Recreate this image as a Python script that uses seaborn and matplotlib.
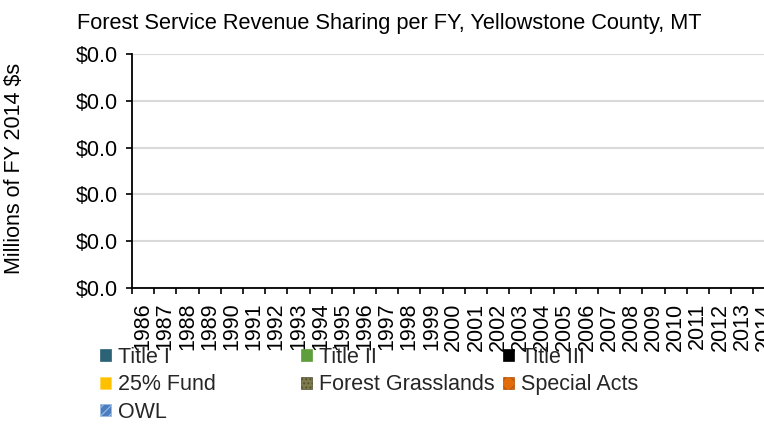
import numpy as np
import pandas as pd
import matplotlib
matplotlib.use("Agg")
import matplotlib.pyplot as plt
import seaborn as sns
from matplotlib.patches import Patch
from matplotlib.ticker import FuncFormatter, MultipleLocator, FixedLocator

# ---- data (millions of FY 2014 dollars) ----
years = [1986, 1987, 1988, 1989, 1990, 1991, 1992, 1993, 1994, 1995,
         1996, 1997, 1998, 1999, 2000, 2001, 2002, 2003, 2004, 2005,
         2006, 2007, 2008, 2009, 2010, 2011, 2012, 2013, 2014]
title_i = [0, 0, 0, 0, 0, 0, 0, 0, 0, 0, 0, 0, 0, 0, 0, 0, 0, 0, 0, 0, 0, 0, 0, 0, 0, 0, 0, 0, 0]
title_ii = [0, 0, 0, 0, 0, 0, 0, 0, 0, 0, 0, 0, 0, 0, 0, 0, 0, 0, 0, 0, 0, 0, 0, 0, 0, 0, 0, 0, 0]
title_iii = [0, 0, 0, 0, 0, 0, 0, 0, 0, 0, 0, 0, 0, 0, 0, 0, 0, 0, 0, 0, 0, 0, 0, 0, 0, 0, 0, 0, 0]
fund_25 = [0, 0, 0, 0, 0, 0, 0, 0, 0, 0, 0, 0, 0, 0, 0, 0, 0, 0, 0, 0, 0, 0, 0, 0, 0, 0, 0, 0, 0]
forest_grasslands = [0, 0, 0, 0, 0, 0, 0, 0, 0, 0, 0, 0, 0, 0, 0, 0, 0, 0, 0, 0, 0, 0, 0, 0, 0, 0, 0, 0, 0]
special_acts = [0, 0, 0, 0, 0, 0, 0, 0, 0, 0, 0, 0, 0, 0, 0, 0, 0, 0, 0, 0, 0, 0, 0, 0, 0, 0, 0, 0, 0]
owl = [0, 0, 0, 0, 0, 0, 0, 0, 0, 0, 0, 0, 0, 0, 0, 0, 0, 0, 0, 0, 0, 0, 0, 0, 0, 0, 0, 0, 0]

series_names = ["Title I", "Title II", "Title III", "25% Fund",
                "Forest Grasslands", "Special Acts", "OWL"]

title_text = "Forest Service Revenue Sharing per FY, Yellowstone County, MT"
ylabel_text = "Millions of FY 2014 $s"

# ---- styles ----
styles = {
    "Title I": dict(facecolor="#2b6276", edgecolor="#2b6276", hatch=None),
    "Title II": dict(facecolor="#5e9e3c", edgecolor="#5e9e3c", hatch=None),
    "Title III": dict(facecolor="#000000", edgecolor="#000000", hatch=None),
    "25% Fund": dict(facecolor="#ffc000", edgecolor="#ffd84a", hatch=None),
    "Forest Grasslands": dict(facecolor="#7d7a4c", edgecolor="#4f4d2e", hatch="...."),
    "Special Acts": dict(facecolor="#e36c0a", edgecolor="#b35208", hatch="xx"),
    "OWL": dict(facecolor="#4a7ebf", edgecolor="#9cbbe3", hatch="////"),
}

sns.set_theme(style="white")
plt.rcParams['font.family'] = ['Liberation Sans', 'DejaVu Sans']
plt.rcParams['hatch.linewidth'] = 0.8
FS = 15.5

df = pd.DataFrame({
    "Year": [str(y) for y in years],
    "Title I": title_i, "Title II": title_ii, "Title III": title_iii,
    "25% Fund": fund_25, "Forest Grasslands": forest_grasslands,
    "Special Acts": special_acts, "OWL": owl,
})
cum = df[series_names].cumsum(axis=1)

fig = plt.figure(figsize=(7.64, 4.4), dpi=100)
ax = fig.add_axes([132 / 764, 152 / 440, (775.5 - 132) / 764, 234 / 440])

# stacked bars: draw cumulative totals from top series down
for name in reversed(series_names):
    st = styles[name]
    sns.barplot(x=df["Year"], y=cum[name], color=st["facecolor"], saturation=1,
                width=0.6, ax=ax, hatch=st["hatch"], edgecolor=st["edgecolor"],
                linewidth=0)

ax.set_xlim(-0.5, len(years) - 0.5)
ax.set_ylim(0, 0.05)
ax.yaxis.set_major_locator(MultipleLocator(0.01))
ax.yaxis.set_major_formatter(FuncFormatter(lambda v, p: f"${v:.1f}"))
ax.set_xlabel("")
ax.set_ylabel("")

# x tick marks at category boundaries, labels centred
ax.xaxis.set_minor_locator(FixedLocator(np.arange(-0.5, len(years), 1)))
ax.tick_params(axis="x", which="major", length=0, pad=10.5, labelsize=15.5,
               labelrotation=90, colors="black")
ax.tick_params(axis="x", which="minor", length=4.3, width=1.2, color="black",
               direction="out", bottom=True)
ax.tick_params(axis="y", which="major", length=4, width=1.2, color="black",
               direction="out", left=True, pad=6, labelsize=FS, labelcolor="black")
for lbl in ax.get_xticklabels():
    lbl.set_verticalalignment("top")

ax.yaxis.grid(True, color="#d9d9d9", linewidth=1.5)
ax.xaxis.grid(False)
ax.set_axisbelow(True)
for s in ["top", "right"]:
    ax.spines[s].set_visible(False)
for s in ["left", "bottom"]:
    ax.spines[s].set_color("black")
    ax.spines[s].set_linewidth(1.3)

fig.text(77 / 764, 1 - 23 / 440, title_text, ha="left", va="center",
         fontsize=15.7, color="black")
fig.text(15 / 764, 1 - 168 / 440, ylabel_text, ha="center", va="center",
         rotation=90, fontsize=FS, color="black")

# legend in three columns with fixed column positions
columns = [["Title I", "25% Fund", "OWL"],
           ["Title II", "Forest Grasslands"],
           ["Title III", "Special Acts"]]
col_x = [100, 301, 503]
for names, x in zip(columns, col_x):
    handles = [Patch(facecolor=styles[n]["facecolor"], edgecolor=styles[n]["edgecolor"],
                     hatch=styles[n]["hatch"], linewidth=0.5, label=n) for n in names]
    fig.legend(handles=handles, loc="upper left", bbox_to_anchor=(x / 764, 1 - 347 / 440),
               frameon=False, fontsize=FS, handlelength=0.5, handleheight=0.5,
               handletextpad=0.35, labelspacing=0.3, borderpad=0, borderaxespad=0)

fig.savefig("out.png", dpi=100)
